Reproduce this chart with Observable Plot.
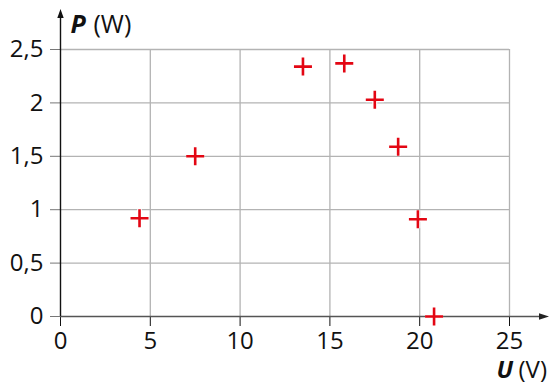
<!DOCTYPE html>
<html>
<head>
<meta charset="utf-8">
<script src="https://cdn.jsdelivr.net/npm/d3@7"></script>
<script src="https://cdn.jsdelivr.net/npm/@observablehq/plot@0.6"></script>
<style>
  html, body { margin: 0; padding: 0; background: #fff; }
</style>
</head>
<body>
<div id="chart"></div>
<script>
// Data
const U = [4.4, 7.5, 13.5, 15.8, 17.5, 18.8, 19.9, 20.8];      // voltage (V)
const P = [0.92, 1.5, 2.34, 2.37, 2.03, 1.59, 0.91, 0];        // power (W)
const xTicks = [0, 5, 10, 15, 20, 25];
const yTicks = [0, 0.5, 1, 1.5, 2, 2.5];
const yTickLabels = ["0", "0,5", "1", "1,5", "2", "2,5"];
const xGrid = [5, 10, 15, 20, 25];
const yGrid = [0.5, 1, 1.5, 2, 2.5];
const axisEnds = {x: 27.2, y: 2.88};

const points = U.map((u, i) => ({U: u, P: P[i]}));

const plus = {draw(ctx) { const r = 9; ctx.moveTo(-r, 0); ctx.lineTo(r, 0); ctx.moveTo(0, -r); ctx.lineTo(0, r); }};
const arrowRight = {draw(ctx) { ctx.moveTo(0, 0); ctx.lineTo(-10, -3.3); ctx.lineTo(-10, 3.3); ctx.closePath(); }};
const arrowUp = {draw(ctx) { ctx.moveTo(0, 0); ctx.lineTo(-3.2, 9); ctx.lineTo(3.2, 9); ctx.closePath(); }};

const gridColor = "#b3b3b3";
const red = "#e30613";

const chart = Plot.plot({
  width: 551,
  height: 384,
  marginLeft: 60,
  marginRight: 42,
  marginTop: 49,
  marginBottom: 68,
  style: {fontFamily: "'Open Sans', sans-serif", fontSize: "24px", background: "#fff", color: "#111"},
  x: {domain: [0, 25]},
  y: {domain: [0, 2.5]},
  marks: [
    Plot.gridX(xGrid, {stroke: gridColor, strokeOpacity: 1, strokeWidth: 1.3}),
    Plot.gridY(yGrid, {stroke: gridColor, strokeOpacity: 1, strokeWidth: 1.3}),
    Plot.axisY(yTicks, {tickSize: 10, tickPadding: 7, stroke: "#777", fill: "#111", fontSize: 24,
      tickFormat: (d) => yTickLabels[yTicks.indexOf(d)], label: null}),
    Plot.axisX(xTicks, {tickSize: 10, tickPadding: 5, stroke: "#111", fill: "#111", fontSize: 24, label: null}),
    Plot.ruleY([0], {x1: 0, x2: axisEnds.x - 0.3, stroke: "#555", strokeWidth: 1.6}),
    Plot.ruleX([0], {y1: 0, y2: axisEnds.y - 0.05, stroke: "#111", strokeWidth: 1.4}),
    Plot.dot([{x: axisEnds.x, y: 0}], {x: "x", y: "y", symbol: arrowRight, fill: "#222", stroke: "none"}),
    Plot.dot([{x: 0, y: axisEnds.y}], {x: "x", y: "y", symbol: arrowUp, fill: "#111", stroke: "none"}),
    Plot.dot(points, {x: "U", y: "P", symbol: plus, stroke: "white", strokeWidth: 5}),
    Plot.dot(points, {x: "U", y: "P", symbol: plus, stroke: red, strokeWidth: 2.6}),
    Plot.text(["P"], {frameAnchor: "top-left", text: (d) => d, dx: 10, dy: -17, lineAnchor: "bottom", textAnchor: "start",
      fontSize: 25, fontWeight: "bold", fontStyle: "italic", fill: "#111"}),
    Plot.text(["(W)"], {frameAnchor: "top-left", text: (d) => d, dx: 33, dy: -17, lineAnchor: "bottom", textAnchor: "start",
      fontSize: 25, fill: "#111"}),
    Plot.text(["U"], {frameAnchor: "bottom-right", text: (d) => d, dx: -13, dy: 61, lineAnchor: "bottom", textAnchor: "start",
      fontSize: 24, fontWeight: "bold", fontStyle: "italic", fill: "#111"}),
    Plot.text(["(V)"], {frameAnchor: "bottom-right", text: (d) => d, dx: 9, dy: 61, lineAnchor: "bottom", textAnchor: "start",
      fontSize: 24, fill: "#111"})
  ]
});
document.getElementById("chart").appendChild(chart);
</script>
</body>
</html>
